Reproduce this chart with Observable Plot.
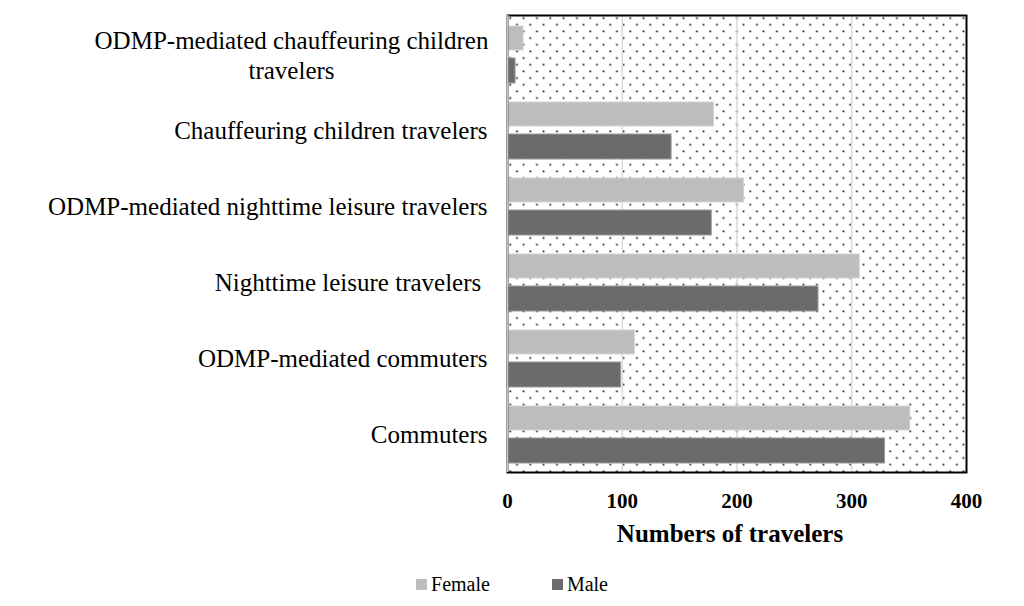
<!DOCTYPE html>
<html>
<head>
<meta charset="utf-8">
<script src="https://cdn.jsdelivr.net/npm/d3@7"></script>
<script src="https://cdn.jsdelivr.net/npm/@observablehq/plot@0.6"></script>
<style>
  body { margin: 0; background: #fff; font-family: "Liberation Serif", "Times New Roman", serif; }
  #chart svg text { white-space: pre; }
  .legend { display: flex; justify-content: center; gap: 62px; margin-top: 17px; margin-left: 0px; font-size: 20px; color: #000; line-height: 24px; }
  .legend .item { display: flex; align-items: center; }
  .legend .sw { width: 11px; height: 11px; margin-right: 4px; display: inline-block; }
</style>
</head>
<body>
<div id="chart"></div>
<script>
const categories = [
  "ODMP-mediated chauffeuring children\ntravelers",
  "Chauffeuring children travelers",
  "ODMP-mediated nighttime leisure travelers",
  "Nighttime leisure travelers ",
  "ODMP-mediated commuters",
  "Commuters"
];
const female = [14, 180, 206, 307, 111, 351];
const male = [7, 143, 178, 271, 99, 329];
const xTicks = [0, 100, 200, 300, 400];
const xLabel = "Numbers of travelers";
const seriesNames = ["Female", "Male"];
const seriesColors = ["#bdbdbd", "#6b6b6b"];

const rowsF = categories.map((c, i) => ({category: c, value: female[i]}));
const rowsM = categories.map((c, i) => ({category: c, value: male[i]}));
const singleLine = categories.filter(c => !c.includes("\n"));
const multiLine = categories.filter(c => c.includes("\n"));

const plot = Plot.plot({
  width: 1024,
  height: 555,
  marginTop: 15,
  marginBottom: 83,
  marginLeft: 507,
  marginRight: 58,
  style: {fontFamily: "Liberation Serif, Times New Roman, serif", background: "transparent", color: "#000"},
  x: {domain: [0, 400], ticks: xTicks, tickSize: 0, tickPadding: 21, label: null, line: false},
  y: {domain: categories, padding: 0, axis: null},
  marks: [
    Plot.frame({fill: "url(#dots)", stroke: "none"}),
    Plot.ruleX(xTicks.slice(1, -1), {stroke: "#d9d9d9", strokeWidth: 1.5}),
    Plot.barX(rowsF, {x: "value", y: "category", fill: seriesColors[0], stroke: "#d4d4d4", strokeWidth: 1, insetTop: 10, insetBottom: 42}),
    Plot.barX(rowsM, {x: "value", y: "category", fill: seriesColors[1], stroke: "#9a9a9a", strokeWidth: 1, insetTop: 42, insetBottom: 9}),
    Plot.frame({stroke: "#000", strokeWidth: 2}),
    Plot.ruleX([0], {stroke: "#c8c8c8", strokeWidth: 2}),
    Plot.text(singleLine, {y: d => d, text: d => d, frameAnchor: "left", textAnchor: "end", dx: -20, fontSize: 25, fill: "#000"}),
    Plot.text(multiLine, {y: d => d, text: d => d, frameAnchor: "left", textAnchor: "middle", dx: -216, fontSize: 25, lineHeight: 1.2, fill: "#000"}),
    Plot.text([xLabel], {text: d => d, frameAnchor: "bottom", dy: 69, dx: -7, fontSize: 25, fontWeight: "bold", fill: "#000"})
  ]
});

// dotted background pattern
const ns = "http://www.w3.org/2000/svg";
const defs = document.createElementNS(ns, "defs");
defs.innerHTML = `<pattern id="dots" patternUnits="userSpaceOnUse" x="0" y="1" width="13.33" height="13.33">
  <rect x="0" y="0" width="13.33" height="13.33" fill="#fff"/>
  <rect x="2.4" y="2.4" width="1.7" height="1.7" fill="#111"/>
  <rect x="9.07" y="9.07" width="1.7" height="1.7" fill="#111"/>
</pattern>`;
plot.insertBefore(defs, plot.firstChild);

// style axis tick labels
plot.querySelectorAll("g[aria-label='x-axis tick label'], g[aria-label='x-axis tick label'] text").forEach(el => {
  el.setAttribute("font-weight", "bold");
  el.setAttribute("font-size", "21");
});

document.getElementById("chart").appendChild(plot);

const legend = document.createElement("div");
legend.className = "legend";
seriesNames.forEach((n, i) => {
  const item = document.createElement("div");
  item.className = "item";
  const sw = document.createElement("span");
  sw.className = "sw";
  sw.style.background = seriesColors[i];
  item.appendChild(sw);
  item.appendChild(document.createTextNode(n));
  legend.appendChild(item);
});
document.getElementById("chart").appendChild(legend);
</script>
</body>
</html>
